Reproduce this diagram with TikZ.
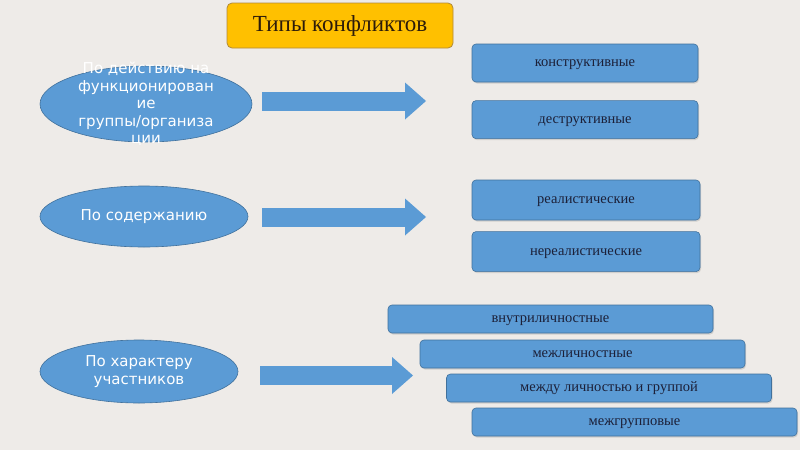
\documentclass[tikz,border=0pt]{standalone}
\usepackage{fontspec}
\setmainfont{Liberation Serif}
\newfontfamily\ovalfont{DejaVu Sans}
\usetikzlibrary{arrows.meta,positioning,calc,shapes.geometric,shadows}
\definecolor{boxblue}{RGB}{91,155,213}
\definecolor{boxedge}{RGB}{65,113,156}
\definecolor{titlegold}{RGB}{255,192,0}
\definecolor{titleedge}{RGB}{176,138,60}
\definecolor{titleink}{RGB}{45,28,10}
\definecolor{bgpaper}{RGB}{238,235,232}
\definecolor{inktext}{RGB}{28,32,56}

\begin{document}
\begin{tikzpicture}[x=1pt,y=-1pt,
  kind/.style={draw=boxedge,fill=boxblue,rounded corners=4pt,line width=0.6pt,minimum height=38pt,minimum width=226pt,text=inktext,text height=7pt,text depth=0pt,font=\fontsize{14.5}{16}\selectfont,drop shadow={opacity=0.25,shadow xshift=1pt,shadow yshift=-1.5pt}},
  stair/.style={kind,minimum height=28pt,minimum width=325pt},
  oval/.style={ellipse,draw=boxedge,fill=boxblue,line width=0.6pt,inner sep=0pt},
  ovaltext/.style={text=white,align=center,font=\ovalfont\fontsize{15}{17.5}\selectfont},
  fatarrow/.style={draw=boxblue,line width=19pt,-{Triangle[length=21pt,width=37pt,line width=0pt]}}]
\fill[bgpaper] (0,0) rectangle (800,450);
\node[draw=titleedge,fill=titlegold,rounded corners=5pt,line width=0.8pt,minimum width=226pt,minimum height=45pt,text=titleink,font=\fontsize{23}{26}\selectfont] (title) at (340,25.5) {Типы конфликтов};
% ovals on the left
\node[oval,minimum width=212pt,minimum height=76pt] (e1) at (146,104) {};\node[ovaltext] at (e1) {По действию на\\функционирован\\ие\\группы/организа\\ции};
\node[oval,minimum width=208pt,minimum height=61pt] (e2) at (144,216.5) {};\node[ovaltext] at (e2) {По содержанию};
\node[oval,minimum width=198pt,minimum height=63pt] (e3) at (139,371.5) {};\node[ovaltext] at (e3) {По характеру\\участников};
% kinds on the right
\node[kind] (k1) at (585,63) {конструктивные};\node[kind,below=18pt of k1] (k2) {деструктивные};
\node[kind,minimum width=228pt,minimum height=40pt] (k3) at (586,200) {реалистические};\node[kind,minimum width=228pt,minimum height=40pt,below=11pt of k3] (k4) {нереалистические};
\foreach \n/\x/\y/\t in {1/550.5/319/внутриличностные,2/582.5/354/межличностные,3/609/388/между личностью и группой,4/634.5/422/межгрупповые}{\node[stair] (s\n) at (\x,\y) {\t};}
% arrows
\coordinate (t1) at (426,101);\coordinate (t2) at (426,217);\coordinate (t3) at (413,375.5);
\draw[fatarrow] ($(e1.east)+(10,-3)$) -- (t1);\draw[fatarrow] ($(e2.east)+(14,0.5)$) -- (t2);\draw[fatarrow] ($(e3.east)+(22,4)$) -- (t3);
\end{tikzpicture}
\end{document}
